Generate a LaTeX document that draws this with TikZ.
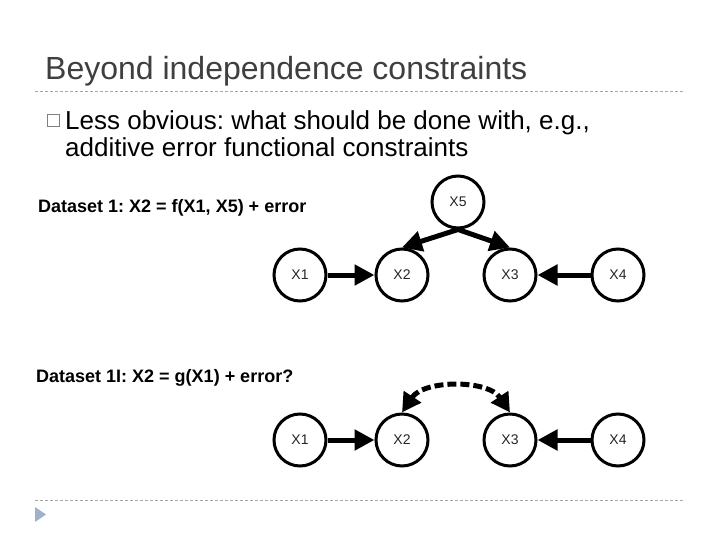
\documentclass[tikz,border=0pt]{standalone}
\usepackage{fontspec}
\setmainfont{Liberation Sans}
\usetikzlibrary{arrows.meta,calc}
\definecolor{titlegray}{HTML}{3F3F3F}
\definecolor{rulegray}{HTML}{A6A6A6}
\definecolor{navblue}{HTML}{9FB2C8}
\frenchspacing
\begin{document}
\begin{tikzpicture}[x=1pt,y=-1pt,
  var/.style={circle,draw=black,line width=3pt,minimum size=52pt,inner sep=0pt,
    font=\fontsize{14}{16}\selectfont,text=black!85},
  edge/.style={line width=5pt,-{Triangle[length=20pt,width=20pt]}},
  biedge/.style={line width=5pt,{Triangle[length=19pt,width=20pt]}-{Triangle[length=19pt,width=20pt]},dash pattern=on 9pt off 4pt},
  sep/.style={rulegray,line width=0.8pt,dash pattern=on 3pt off 2pt}]
\useasboundingbox (0,0) rectangle (720,540);
\fill[white] (0,0) rectangle (720,540);
% title
\node[anchor=base west,inner sep=0pt,text=titlegray,font=\fontsize{32}{38}\selectfont] (title) at (45,80) {Beyond independence constraints};
\coordinate (s1a) at (35,91); \coordinate (s1b) at (685,91);
\draw[sep] (s1a) -- (s1b);
% bullet
\node[draw=gray,line width=1pt,minimum size=12pt,inner sep=0pt] (bul) at (53.5,121) {};
\node[anchor=base west,inner sep=0pt,font=\fontsize{26}{30}\selectfont] (b1) at (65,130) {Less obvious: what should be done with, e.g.,};
\node[anchor=base west,inner sep=0pt,font=\fontsize{26}{30}\selectfont] (b2) at (65,157) {additive error functional constraints};
% dataset 1
\node[anchor=base west,inner sep=0pt,font=\bfseries\fontsize{18}{20}\selectfont] (d1) at (38,213) {Dataset 1: X2 = f(X1, X5) + error};
\node[var] (x5) at (458,202) {X5};
\node[var] (x1) at (300,275) {X1};
\node[var] (x2) at (402,275) {X2};
\node[var] (x3) at (510,275) {X3};
\node[var] (x4) at (618,275) {X4};
\draw[edge] (x1) -- (x2);
\draw[edge] (x4) -- (x3);
\draw[edge] (x5.south) -- (x2.north);
\draw[edge] (x5.south) -- (x3.north);
% dataset 1I
\node[anchor=base west,inner sep=0pt,font=\bfseries\fontsize{18}{20}\selectfont] (d2) at (36,382) {Dataset 1I: X2 = g(X1) + error?};
\node[var] (y1) at (300,440) {X1};
\node[var] (y2) at (402,440) {X2};
\node[var] (y3) at (510,440) {X3};
\node[var] (y4) at (618,440) {X4};
\draw[edge] (y1) -- (y2);
\draw[edge] (y4) -- (y3);
\draw[biedge] (y2.north) .. controls +(22,-33) and +(-22,-33) .. (y3.north);
% footer
\coordinate (s2a) at (35,500); \coordinate (s2b) at (685,500);
\draw[sep] (s2a) -- (s2b);
\fill[navblue] (35,507) -- (46,514.5) -- (35,522) -- cycle;
\end{tikzpicture}
\end{document}
